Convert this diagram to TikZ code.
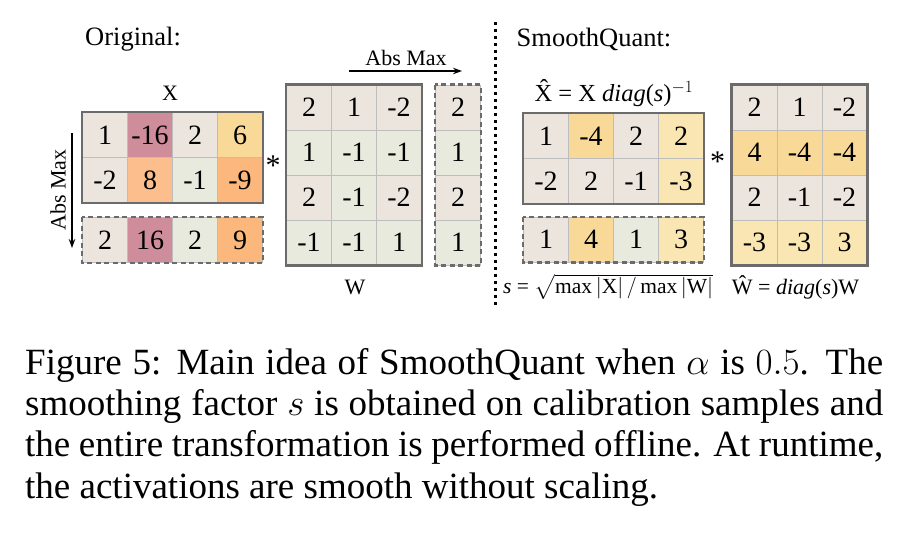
\documentclass[tikz,border=0pt]{standalone}
\usepackage{fix-cm}
\usepackage{amsmath}
\usepackage{fontspec}
\setmainfont{Liberation Serif}
\usetikzlibrary{positioning,calc,arrows,arrows.meta}

\definecolor{cellbeige}{HTML}{EBE5DD}
\definecolor{cellsage}{HTML}{E9EADE}
\definecolor{cellmauve}{HTML}{CF8C9B}
\definecolor{cellpeach}{HTML}{FDBE8E}
\definecolor{cellorange}{HTML}{FBB77C}
\definecolor{cellgold}{HTML}{F9D998}
\definecolor{cellcream}{HTML}{F9E6B2}
\definecolor{framegray}{HTML}{6B6B6B}
\definecolor{gridgray}{HTML}{BDBDBD}

\begin{document}
\begin{tikzpicture}[x=1pt, y=-1pt]
	\useasboundingbox[fill=white] (0,0) rectangle (904,538);
	\begin{scope}
		\tikzset{cell/.style={minimum width=45pt, minimum height=45pt, inner sep=0pt, draw=gridgray, line width=0.8pt, font=\fontsize{28}{28}\selectfont},
			matframe/.style={draw=framegray, line width=2.6pt},
			absframe/.style={draw=framegray, line width=2.6pt, dash pattern=on 5pt off 3.5pt},
			lbl/.style={inner sep=0pt, font=\fontsize{22}{22}\selectfont},
			title/.style={inner sep=0pt, anchor=base west, font=\fontsize{26.5}{26.5}\selectfont}}

		\node[title] (orig) at (85, 45)    {Original:};
		\node[title] (smq)  at (516.5, 46) {SmoothQuant:};

		% original X
		\node[lbl] (xlbl) at (170, 93) {X};
		\node[cell, fill=cellbeige]  (x11) at (105, 135) {1};
		\node[cell, fill=cellmauve]  (x12) at (150, 135) {-16};
		\node[cell, fill=cellbeige]  (x13) at (195, 135) {2};
		\node[cell, fill=cellgold]   (x14) at (240, 135) {6};
		\node[cell, fill=cellbeige]  (x21) at (105, 180) {-2};
		\node[cell, fill=cellpeach]  (x22) at (150, 180) {8};
		\node[cell, fill=cellsage]   (x23) at (195, 180) {-1};
		\node[cell, fill=cellorange] (x24) at (240, 180) {-9};
		\draw[matframe] (x11.north west) rectangle (x24.south east);

		\node[cell, fill=cellbeige]  (xa1) at (105, 240) {2};
		\node[cell, fill=cellmauve]  (xa2) at (150, 240) {16};
		\node[cell, fill=cellsage]   (xa3) at (195, 240) {2};
		\node[cell, fill=cellorange] (xa4) at (240, 240) {9};
		\draw[absframe] (xa1.north west) rectangle (xa4.south east);

		\coordinate (vtop) at (72, 133);
		\coordinate (vbot) at (72, 248);
		\draw[->, >={Stealth[length=9pt, width=6.5pt]}, line width=1.2pt] (vtop) to (vbot);
		\node[lbl, rotate=90] (vabs) at (58, 190) {Abs Max};

		\node[font=\fontsize{30}{30}\selectfont, inner sep=0pt] (star1) at (273, 166) {*};

		% original W
		\node[cell, fill=cellbeige] (w11) at (309, 107.5) {2};
		\node[cell, fill=cellbeige] (w12) at (354, 107.5) {1};
		\node[cell, fill=cellbeige] (w13) at (399, 107.5) {-2};
		\node[cell, fill=cellsage]  (w21) at (309, 152.5) {1};
		\node[cell, fill=cellsage]  (w22) at (354, 152.5) {-1};
		\node[cell, fill=cellsage]  (w23) at (399, 152.5) {-1};
		\node[cell, fill=cellbeige] (w31) at (309, 197.5) {2};
		\node[cell, fill=cellsage]  (w32) at (354, 197.5) {-1};
		\node[cell, fill=cellbeige] (w33) at (399, 197.5) {-2};
		\node[cell, fill=cellsage]  (w41) at (309, 242.5) {-1};
		\node[cell, fill=cellsage]  (w42) at (354, 242.5) {-1};
		\node[cell, fill=cellsage]  (w43) at (399, 242.5) {1};
		\draw[matframe] (w11.north west) rectangle (w43.south east);
		\node[lbl] (wlbl) at (355, 287) {W};

		\node[cell, fill=cellbeige] (wa1) at (458, 107.5) {2};
		\node[cell, fill=cellsage]  (wa2) at (458, 152.5) {1};
		\node[cell, fill=cellbeige] (wa3) at (458, 197.5) {2};
		\node[cell, fill=cellsage]  (wa4) at (458, 242.5) {1};
		\draw[absframe] (wa1.north west) rectangle (wa4.south east);

		\coordinate (hleft)  at (349, 71);
		\coordinate (hright) at (462, 71);
		\draw[->, >={Stealth[length=9pt, width=6.5pt]}, line width=1.2pt] (hleft) to (hright);
		\node[lbl] (habs) at (406, 58) {Abs Max};

		% separator
		\coordinate (septop) at (495.5, 22);
		\coordinate (sepbot) at (495.5, 305);
		\draw[line width=2.4pt, dash pattern=on 3pt off 4pt] (septop) to (sepbot);

		% smoothed X
		\node[lbl, font=\fontsize{24.5}{24.5}\selectfont] (xhlbl) at (614, 93) {\^{X} = X \textit{diag}(\textit{s})$^{-1}$};
		\node[cell, fill=cellbeige] (y11) at (546, 136) {1};
		\node[cell, fill=cellgold]  (y12) at (591, 136) {-4};
		\node[cell, fill=cellbeige] (y13) at (636, 136) {2};
		\node[cell, fill=cellcream] (y14) at (681, 136) {2};
		\node[cell, fill=cellbeige] (y21) at (546, 181) {-2};
		\node[cell, fill=cellbeige] (y22) at (591, 181) {2};
		\node[cell, fill=cellbeige] (y23) at (636, 181) {-1};
		\node[cell, fill=cellcream] (y24) at (681, 181) {-3};
		\draw[matframe] (y11.north west) rectangle (y24.south east);

		\node[cell, fill=cellbeige] (ya1) at (546, 239.7) {1};
		\node[cell, fill=cellgold]  (ya2) at (591, 239.7) {4};
		\node[cell, fill=cellsage]  (ya3) at (636, 239.7) {1};
		\node[cell, fill=cellcream] (ya4) at (681, 239.7) {3};
		\draw[absframe] (ya1.north west) rectangle (ya4.south east);

		\node[font=\fontsize{30}{30}\selectfont, inner sep=0pt] (star2) at (717.5, 162) {*};

		% smoothed W
		\node[cell, fill=cellbeige] (v11) at (754.5, 107.5) {2};
		\node[cell, fill=cellbeige] (v12) at (799.5, 107.5) {1};
		\node[cell, fill=cellbeige] (v13) at (844.5, 107.5) {-2};
		\node[cell, fill=cellgold]  (v21) at (754.5, 152.5) {4};
		\node[cell, fill=cellgold]  (v22) at (799.5, 152.5) {-4};
		\node[cell, fill=cellgold]  (v23) at (844.5, 152.5) {-4};
		\node[cell, fill=cellbeige] (v31) at (754.5, 197.5) {2};
		\node[cell, fill=cellbeige] (v32) at (799.5, 197.5) {-1};
		\node[cell, fill=cellbeige] (v33) at (844.5, 197.5) {-2};
		\node[cell, fill=cellcream] (v41) at (754.5, 242.5) {-3};
		\node[cell, fill=cellcream] (v42) at (799.5, 242.5) {-3};
		\node[cell, fill=cellcream] (v43) at (844.5, 242.5) {3};
		\draw[matframe] (v11.north west) rectangle (v43.south east);

		\node[lbl, anchor=west, font=\fontsize{21.5}{21.5}\selectfont] (sform) at (503, 287) {\textit{s} = $\sqrt{\mbox{max}\,|\mbox{X}|\,/\,\mbox{max}\,|\mbox{W}|}$};
		\node[lbl, anchor=west] (wform) at (731.7, 287) {\^{W} = \textit{diag}(\textit{s})W};

		% caption
		\node[anchor=north west, inner sep=0pt, text width=858pt, align=justify, font=\fontsize{37}{41.3}\selectfont] (cap) at (25, 348)
			{Figure 5: Main idea of SmoothQuant when $\alpha$ is $0.5$. The\linebreak
			smoothing factor $s$ is obtained on calibration samples and\linebreak
			the entire transformation is performed offline. At runtime,\linebreak
			the activations are smooth without scaling.};
	\end{scope}
\end{tikzpicture}
\end{document}
